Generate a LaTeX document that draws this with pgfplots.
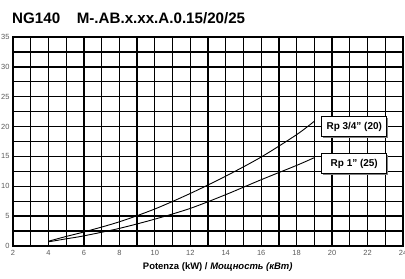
\documentclass[border=0pt]{standalone}
\usepackage{pgfplots}
\pgfplotsset{compat=1.18}
\usepackage{fontspec}
\setmainfont{Liberation Sans}
\usetikzlibrary{shadows}
\begin{document}
\begin{tikzpicture}
\begin{axis}[
  scale only axis,
  width=390bp, height=209bp,
  at={(0,0)}, anchor=south west,
  xmin=2, xmax=24, ymin=0, ymax=35,
  xtick={2,4,...,24}, minor xtick={3,5,...,23},
  ytick={0,5,...,35}, minor ytick={2.5,7.5,...,32.5},
  grid=both,
  major grid style={black, line width=1.3pt},
  minor grid style={black, line width=1.3pt},
  axis line style={black, line width=1.3pt},
  major tick length=0pt, minor tick length=0pt,
  tick label style={font=\fontsize{7.5}{8}\selectfont, text=black!65},
  /pgf/number format/assume math mode=true,
  xticklabel style={yshift=-0.5bp},
  yticklabel style={xshift=0bp},
  xlabel={\textbf{Potenza (kW) / \textit{Мощность (кВт)}}},
  xlabel style={font=\fontsize{9.5}{10}\selectfont, at={(axis description cs:0.525,0)}, anchor=north, yshift=-13bp},
  clip=false,
]
\addplot[black, line width=0.9pt, smooth] coordinates {
(4,0.8) (5,1.6) (6,2.35) (8,4.05) (10,6.2) (12,8.8) (14,11.7) (16,14.9) (18,18.65) (19,20.9)};
\addplot[black, line width=0.9pt, smooth] coordinates {
(4,0.7) (5,1.2) (6,1.7) (8,2.95) (10,4.5) (12,6.3) (14,8.6) (16,11.1) (18,13.5) (19,14.8)};
\node[draw=black, line width=0.7pt, fill=white, drop shadow={shadow xshift=1.5pt, shadow yshift=-1.5pt, fill=black!50, opacity=1},
  minimum width=65bp, minimum height=20bp, inner sep=1pt, font=\bfseries\fontsize{10}{11}\selectfont]
  at (axis cs:21.25,20) {Rp 3/4" (20)};
\node[draw=black, line width=0.7pt, fill=white, drop shadow={shadow xshift=1.5pt, shadow yshift=-1.5pt, fill=black!50, opacity=1},
  minimum width=65bp, minimum height=20bp, inner sep=1pt, font=\bfseries\fontsize{10}{11}\selectfont]
  at (axis cs:21.25,13.8) {Rp 1" (25)};
\end{axis}
\node[anchor=base west, font=\bfseries\fontsize{15.2}{17}\selectfont, inner sep=0pt] at (-1bp,222bp) {NG140\hspace{1.1em}M-.AB.x.xx.A.0.15/20/25};
\pgfresetboundingbox
\path[use as bounding box] (-13bp,-33bp) rectangle (392bp,246bp);
\end{tikzpicture}
\end{document}
